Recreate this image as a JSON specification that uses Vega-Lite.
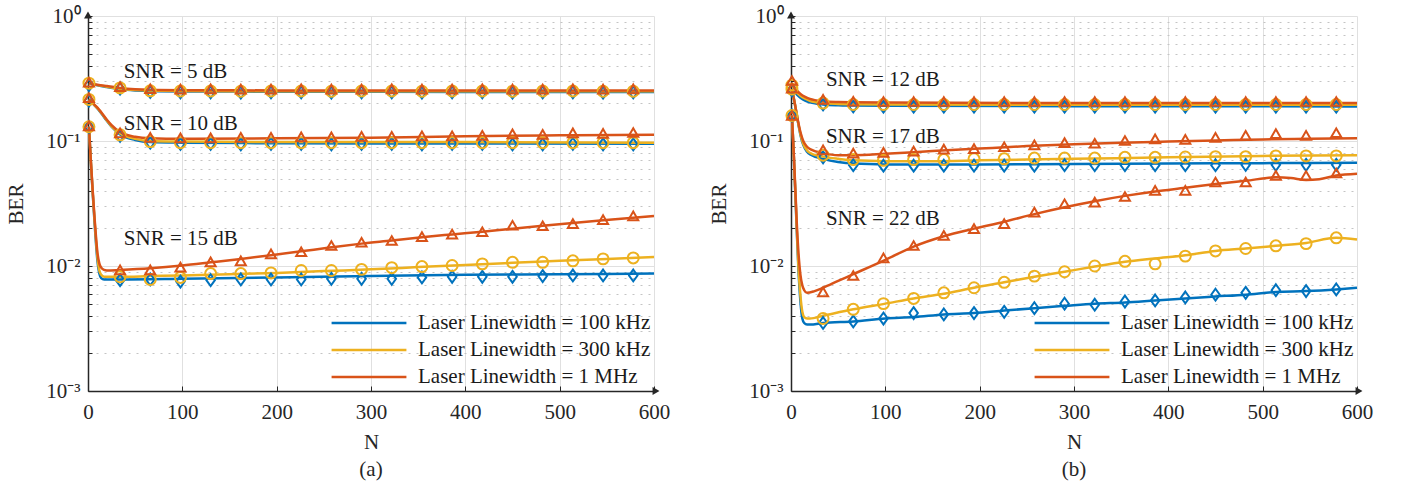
{
"$schema": "https://vega.github.io/schema/vega-lite/v6.json",
"config": {"font": "Liberation Serif", "view": {"stroke": null}, "axis": {"labelFont": "Liberation Serif", "titleFont": "Liberation Serif"}},
"spacing": 38,
"resolve": {"legend": {"color": "independent"}},
"datasets": {
"aL": [
{"s":5,"l":"100 kHz","N":1,"y":0.29},{"s":5,"l":"100 kHz","N":10,"y":0.279},{"s":5,"l":"100 kHz","N":20,"y":0.27},{"s":5,"l":"100 kHz","N":34,"y":0.26},{"s":5,"l":"100 kHz","N":50,"y":0.254},{"s":5,"l":"100 kHz","N":66,"y":0.251},{"s":5,"l":"100 kHz","N":100,"y":0.249},{"s":5,"l":"100 kHz","N":200,"y":0.248},{"s":5,"l":"100 kHz","N":400,"y":0.247},{"s":5,"l":"100 kHz","N":600,"y":0.247},
{"s":10,"l":"100 kHz","N":1,"y":0.215},{"s":10,"l":"100 kHz","N":5,"y":0.2},{"s":10,"l":"100 kHz","N":10,"y":0.182},{"s":10,"l":"100 kHz","N":14,"y":0.167},{"s":10,"l":"100 kHz","N":20,"y":0.145},{"s":10,"l":"100 kHz","N":25,"y":0.13},{"s":10,"l":"100 kHz","N":34,"y":0.113},{"s":10,"l":"100 kHz","N":50,"y":0.102},{"s":10,"l":"100 kHz","N":66,"y":0.098},{"s":10,"l":"100 kHz","N":100,"y":0.097},{"s":10,"l":"100 kHz","N":200,"y":0.096},{"s":10,"l":"100 kHz","N":400,"y":0.0955},{"s":10,"l":"100 kHz","N":600,"y":0.095},
{"s":15,"l":"100 kHz","N":1,"y":0.13},{"s":15,"l":"100 kHz","N":3,"y":0.068},{"s":15,"l":"100 kHz","N":5,"y":0.038},{"s":15,"l":"100 kHz","N":7,"y":0.022},{"s":15,"l":"100 kHz","N":8,"y":0.017},{"s":15,"l":"100 kHz","N":10,"y":0.011},{"s":15,"l":"100 kHz","N":12,"y":0.0087},{"s":15,"l":"100 kHz","N":14,"y":0.008},{"s":15,"l":"100 kHz","N":17,"y":0.0078},{"s":15,"l":"100 kHz","N":34,"y":0.0078},{"s":15,"l":"100 kHz","N":100,"y":0.0079},{"s":15,"l":"100 kHz","N":200,"y":0.0081},{"s":15,"l":"100 kHz","N":300,"y":0.0083},{"s":15,"l":"100 kHz","N":400,"y":0.0085},{"s":15,"l":"100 kHz","N":500,"y":0.0086},{"s":15,"l":"100 kHz","N":600,"y":0.0087},
{"s":5,"l":"300 kHz","N":1,"y":0.29},{"s":5,"l":"300 kHz","N":10,"y":0.28},{"s":5,"l":"300 kHz","N":20,"y":0.272},{"s":5,"l":"300 kHz","N":34,"y":0.262},{"s":5,"l":"300 kHz","N":50,"y":0.256},{"s":5,"l":"300 kHz","N":66,"y":0.253},{"s":5,"l":"300 kHz","N":100,"y":0.251},{"s":5,"l":"300 kHz","N":200,"y":0.25},{"s":5,"l":"300 kHz","N":400,"y":0.25},{"s":5,"l":"300 kHz","N":600,"y":0.25},
{"s":10,"l":"300 kHz","N":1,"y":0.215},{"s":10,"l":"300 kHz","N":5,"y":0.2},{"s":10,"l":"300 kHz","N":10,"y":0.183},{"s":10,"l":"300 kHz","N":14,"y":0.168},{"s":10,"l":"300 kHz","N":20,"y":0.146},{"s":10,"l":"300 kHz","N":25,"y":0.131},{"s":10,"l":"300 kHz","N":34,"y":0.115},{"s":10,"l":"300 kHz","N":50,"y":0.104},{"s":10,"l":"300 kHz","N":66,"y":0.1},{"s":10,"l":"300 kHz","N":100,"y":0.099},{"s":10,"l":"300 kHz","N":200,"y":0.098},{"s":10,"l":"300 kHz","N":400,"y":0.098},{"s":10,"l":"300 kHz","N":600,"y":0.097},
{"s":15,"l":"300 kHz","N":1,"y":0.13},{"s":15,"l":"300 kHz","N":3,"y":0.069},{"s":15,"l":"300 kHz","N":5,"y":0.039},{"s":15,"l":"300 kHz","N":7,"y":0.023},{"s":15,"l":"300 kHz","N":8,"y":0.018},{"s":15,"l":"300 kHz","N":10,"y":0.0118},{"s":15,"l":"300 kHz","N":12,"y":0.0092},{"s":15,"l":"300 kHz","N":14,"y":0.0085},{"s":15,"l":"300 kHz","N":17,"y":0.0082},{"s":15,"l":"300 kHz","N":34,"y":0.0082},{"s":15,"l":"300 kHz","N":66,"y":0.0083},{"s":15,"l":"300 kHz","N":100,"y":0.0084},{"s":15,"l":"300 kHz","N":150,"y":0.0086},{"s":15,"l":"300 kHz","N":200,"y":0.0088},{"s":15,"l":"300 kHz","N":250,"y":0.0091},{"s":15,"l":"300 kHz","N":300,"y":0.0094},{"s":15,"l":"300 kHz","N":350,"y":0.0098},{"s":15,"l":"300 kHz","N":400,"y":0.0102},{"s":15,"l":"300 kHz","N":450,"y":0.0106},{"s":15,"l":"300 kHz","N":500,"y":0.011},{"s":15,"l":"300 kHz","N":550,"y":0.0114},{"s":15,"l":"300 kHz","N":600,"y":0.0118},
{"s":5,"l":"1 MHz","N":1,"y":0.29},{"s":5,"l":"1 MHz","N":10,"y":0.282},{"s":5,"l":"1 MHz","N":20,"y":0.275},{"s":5,"l":"1 MHz","N":34,"y":0.266},{"s":5,"l":"1 MHz","N":50,"y":0.26},{"s":5,"l":"1 MHz","N":66,"y":0.257},{"s":5,"l":"1 MHz","N":100,"y":0.255},{"s":5,"l":"1 MHz","N":200,"y":0.254},{"s":5,"l":"1 MHz","N":400,"y":0.254},{"s":5,"l":"1 MHz","N":600,"y":0.254},
{"s":10,"l":"1 MHz","N":1,"y":0.215},{"s":10,"l":"1 MHz","N":5,"y":0.201},{"s":10,"l":"1 MHz","N":10,"y":0.185},{"s":10,"l":"1 MHz","N":14,"y":0.17},{"s":10,"l":"1 MHz","N":20,"y":0.148},{"s":10,"l":"1 MHz","N":25,"y":0.134},{"s":10,"l":"1 MHz","N":34,"y":0.118},{"s":10,"l":"1 MHz","N":50,"y":0.108},{"s":10,"l":"1 MHz","N":66,"y":0.105},{"s":10,"l":"1 MHz","N":100,"y":0.104},{"s":10,"l":"1 MHz","N":200,"y":0.105},{"s":10,"l":"1 MHz","N":300,"y":0.106},{"s":10,"l":"1 MHz","N":400,"y":0.109},{"s":10,"l":"1 MHz","N":500,"y":0.111},{"s":10,"l":"1 MHz","N":600,"y":0.112},
{"s":15,"l":"1 MHz","N":1,"y":0.13},{"s":15,"l":"1 MHz","N":3,"y":0.07},{"s":15,"l":"1 MHz","N":5,"y":0.04},{"s":15,"l":"1 MHz","N":7,"y":0.024},{"s":15,"l":"1 MHz","N":8,"y":0.019},{"s":15,"l":"1 MHz","N":10,"y":0.0128},{"s":15,"l":"1 MHz","N":12,"y":0.0105},{"s":15,"l":"1 MHz","N":14,"y":0.0097},{"s":15,"l":"1 MHz","N":17,"y":0.0093},{"s":15,"l":"1 MHz","N":20,"y":0.0092},{"s":15,"l":"1 MHz","N":34,"y":0.0093},{"s":15,"l":"1 MHz","N":66,"y":0.0096},{"s":15,"l":"1 MHz","N":100,"y":0.0101},{"s":15,"l":"1 MHz","N":130,"y":0.0107},{"s":15,"l":"1 MHz","N":162,"y":0.0114},{"s":15,"l":"1 MHz","N":194,"y":0.0122},{"s":15,"l":"1 MHz","N":226,"y":0.0131},{"s":15,"l":"1 MHz","N":258,"y":0.0141},{"s":15,"l":"1 MHz","N":290,"y":0.0151},{"s":15,"l":"1 MHz","N":322,"y":0.016},{"s":15,"l":"1 MHz","N":354,"y":0.017},{"s":15,"l":"1 MHz","N":386,"y":0.0179},{"s":15,"l":"1 MHz","N":418,"y":0.0188},{"s":15,"l":"1 MHz","N":450,"y":0.0199},{"s":15,"l":"1 MHz","N":482,"y":0.021},{"s":15,"l":"1 MHz","N":514,"y":0.0221},{"s":15,"l":"1 MHz","N":546,"y":0.0232},{"s":15,"l":"1 MHz","N":578,"y":0.0243},{"s":15,"l":"1 MHz","N":600,"y":0.0251}
],
"aM": [
{"l":"100 kHz","N":1,"y":0.28},{"l":"100 kHz","N":34,"y":0.262},{"l":"100 kHz","N":66,"y":0.247},{"l":"100 kHz","N":98,"y":0.245},{"l":"100 kHz","N":130,"y":0.245},{"l":"100 kHz","N":162,"y":0.244},{"l":"100 kHz","N":194,"y":0.245},{"l":"100 kHz","N":226,"y":0.245},{"l":"100 kHz","N":258,"y":0.244},{"l":"100 kHz","N":290,"y":0.245},{"l":"100 kHz","N":322,"y":0.245},{"l":"100 kHz","N":354,"y":0.244},{"l":"100 kHz","N":386,"y":0.245},{"l":"100 kHz","N":418,"y":0.245},{"l":"100 kHz","N":450,"y":0.244},{"l":"100 kHz","N":482,"y":0.245},{"l":"100 kHz","N":514,"y":0.245},{"l":"100 kHz","N":546,"y":0.244},{"l":"100 kHz","N":578,"y":0.245},
{"l":"100 kHz","N":1,"y":0.21},{"l":"100 kHz","N":34,"y":0.11},{"l":"100 kHz","N":66,"y":0.097},{"l":"100 kHz","N":98,"y":0.095},{"l":"100 kHz","N":130,"y":0.095},{"l":"100 kHz","N":162,"y":0.094},{"l":"100 kHz","N":194,"y":0.095},{"l":"100 kHz","N":226,"y":0.095},{"l":"100 kHz","N":258,"y":0.094},{"l":"100 kHz","N":290,"y":0.095},{"l":"100 kHz","N":322,"y":0.095},{"l":"100 kHz","N":354,"y":0.094},{"l":"100 kHz","N":386,"y":0.095},{"l":"100 kHz","N":418,"y":0.095},{"l":"100 kHz","N":450,"y":0.094},{"l":"100 kHz","N":482,"y":0.094},{"l":"100 kHz","N":514,"y":0.095},{"l":"100 kHz","N":546,"y":0.094},{"l":"100 kHz","N":578,"y":0.094},
{"l":"100 kHz","N":1,"y":0.13},{"l":"100 kHz","N":34,"y":0.0077},{"l":"100 kHz","N":66,"y":0.0078},{"l":"100 kHz","N":98,"y":0.0075},{"l":"100 kHz","N":130,"y":0.0077},{"l":"100 kHz","N":162,"y":0.0078},{"l":"100 kHz","N":194,"y":0.0078},{"l":"100 kHz","N":226,"y":0.0078},{"l":"100 kHz","N":258,"y":0.0079},{"l":"100 kHz","N":290,"y":0.0079},{"l":"100 kHz","N":322,"y":0.0079},{"l":"100 kHz","N":354,"y":0.0081},{"l":"100 kHz","N":386,"y":0.0082},{"l":"100 kHz","N":418,"y":0.0082},{"l":"100 kHz","N":450,"y":0.0082},{"l":"100 kHz","N":482,"y":0.0083},{"l":"100 kHz","N":514,"y":0.0084},{"l":"100 kHz","N":546,"y":0.0084},{"l":"100 kHz","N":578,"y":0.0084},
{"l":"300 kHz","N":1,"y":0.29},{"l":"300 kHz","N":34,"y":0.266},{"l":"300 kHz","N":66,"y":0.252},{"l":"300 kHz","N":98,"y":0.251},{"l":"300 kHz","N":130,"y":0.251},{"l":"300 kHz","N":162,"y":0.25},{"l":"300 kHz","N":194,"y":0.251},{"l":"300 kHz","N":226,"y":0.251},{"l":"300 kHz","N":258,"y":0.25},{"l":"300 kHz","N":290,"y":0.251},{"l":"300 kHz","N":322,"y":0.251},{"l":"300 kHz","N":354,"y":0.25},{"l":"300 kHz","N":386,"y":0.251},{"l":"300 kHz","N":418,"y":0.251},{"l":"300 kHz","N":450,"y":0.25},{"l":"300 kHz","N":482,"y":0.251},{"l":"300 kHz","N":514,"y":0.251},{"l":"300 kHz","N":546,"y":0.25},{"l":"300 kHz","N":578,"y":0.25},
{"l":"300 kHz","N":1,"y":0.215},{"l":"300 kHz","N":34,"y":0.112},{"l":"300 kHz","N":66,"y":0.099},{"l":"300 kHz","N":98,"y":0.097},{"l":"300 kHz","N":130,"y":0.097},{"l":"300 kHz","N":162,"y":0.097},{"l":"300 kHz","N":194,"y":0.097},{"l":"300 kHz","N":226,"y":0.097},{"l":"300 kHz","N":258,"y":0.097},{"l":"300 kHz","N":290,"y":0.097},{"l":"300 kHz","N":322,"y":0.097},{"l":"300 kHz","N":354,"y":0.097},{"l":"300 kHz","N":386,"y":0.097},{"l":"300 kHz","N":418,"y":0.097},{"l":"300 kHz","N":450,"y":0.097},{"l":"300 kHz","N":482,"y":0.097},{"l":"300 kHz","N":514,"y":0.097},{"l":"300 kHz","N":546,"y":0.097},{"l":"300 kHz","N":578,"y":0.097},
{"l":"300 kHz","N":1,"y":0.13},{"l":"300 kHz","N":34,"y":0.0082},{"l":"300 kHz","N":66,"y":0.0078},{"l":"300 kHz","N":98,"y":0.0081},{"l":"300 kHz","N":130,"y":0.0087},{"l":"300 kHz","N":162,"y":0.0087},{"l":"300 kHz","N":194,"y":0.0088},{"l":"300 kHz","N":226,"y":0.0092},{"l":"300 kHz","N":258,"y":0.0092},{"l":"300 kHz","N":290,"y":0.0094},{"l":"300 kHz","N":322,"y":0.0097},{"l":"300 kHz","N":354,"y":0.0099},{"l":"300 kHz","N":386,"y":0.0101},{"l":"300 kHz","N":418,"y":0.0104},{"l":"300 kHz","N":450,"y":0.0107},{"l":"300 kHz","N":482,"y":0.0107},{"l":"300 kHz","N":514,"y":0.011},{"l":"300 kHz","N":546,"y":0.0114},{"l":"300 kHz","N":578,"y":0.0116},
{"l":"1 MHz","N":1,"y":0.295},{"l":"1 MHz","N":34,"y":0.272},{"l":"1 MHz","N":66,"y":0.262},{"l":"1 MHz","N":98,"y":0.26},{"l":"1 MHz","N":130,"y":0.261},{"l":"1 MHz","N":162,"y":0.26},{"l":"1 MHz","N":194,"y":0.26},{"l":"1 MHz","N":226,"y":0.261},{"l":"1 MHz","N":258,"y":0.26},{"l":"1 MHz","N":290,"y":0.26},{"l":"1 MHz","N":322,"y":0.261},{"l":"1 MHz","N":354,"y":0.26},{"l":"1 MHz","N":386,"y":0.26},{"l":"1 MHz","N":418,"y":0.261},{"l":"1 MHz","N":450,"y":0.26},{"l":"1 MHz","N":482,"y":0.26},{"l":"1 MHz","N":514,"y":0.261},{"l":"1 MHz","N":546,"y":0.26},{"l":"1 MHz","N":578,"y":0.261},
{"l":"1 MHz","N":1,"y":0.222},{"l":"1 MHz","N":34,"y":0.116},{"l":"1 MHz","N":66,"y":0.107},{"l":"1 MHz","N":98,"y":0.106},{"l":"1 MHz","N":130,"y":0.106},{"l":"1 MHz","N":162,"y":0.107},{"l":"1 MHz","N":194,"y":0.107},{"l":"1 MHz","N":226,"y":0.108},{"l":"1 MHz","N":258,"y":0.108},{"l":"1 MHz","N":290,"y":0.109},{"l":"1 MHz","N":322,"y":0.109},{"l":"1 MHz","N":354,"y":0.11},{"l":"1 MHz","N":386,"y":0.11},{"l":"1 MHz","N":418,"y":0.111},{"l":"1 MHz","N":450,"y":0.114},{"l":"1 MHz","N":482,"y":0.113},{"l":"1 MHz","N":514,"y":0.116},{"l":"1 MHz","N":546,"y":0.115},{"l":"1 MHz","N":578,"y":0.117},
{"l":"1 MHz","N":1,"y":0.132},{"l":"1 MHz","N":34,"y":0.0093},{"l":"1 MHz","N":66,"y":0.0093},{"l":"1 MHz","N":98,"y":0.0098},{"l":"1 MHz","N":130,"y":0.0108},{"l":"1 MHz","N":162,"y":0.011},{"l":"1 MHz","N":194,"y":0.0125},{"l":"1 MHz","N":226,"y":0.013},{"l":"1 MHz","N":258,"y":0.0146},{"l":"1 MHz","N":290,"y":0.0155},{"l":"1 MHz","N":322,"y":0.016},{"l":"1 MHz","N":354,"y":0.0172},{"l":"1 MHz","N":386,"y":0.018},{"l":"1 MHz","N":418,"y":0.0188},{"l":"1 MHz","N":450,"y":0.0212},{"l":"1 MHz","N":482,"y":0.021},{"l":"1 MHz","N":514,"y":0.0218},{"l":"1 MHz","N":546,"y":0.0235},{"l":"1 MHz","N":578,"y":0.0252}
],
"bL": [
{"s":12,"l":"100 kHz","N":1,"y":0.26},{"s":12,"l":"100 kHz","N":5,"y":0.24},{"s":12,"l":"100 kHz","N":10,"y":0.222},{"s":12,"l":"100 kHz","N":15,"y":0.21},{"s":12,"l":"100 kHz","N":20,"y":0.204},{"s":12,"l":"100 kHz","N":34,"y":0.196},{"s":12,"l":"100 kHz","N":50,"y":0.193},{"s":12,"l":"100 kHz","N":66,"y":0.192},{"s":12,"l":"100 kHz","N":100,"y":0.191},{"s":12,"l":"100 kHz","N":300,"y":0.19},{"s":12,"l":"100 kHz","N":600,"y":0.189},
{"s":17,"l":"100 kHz","N":1,"y":0.26},{"s":17,"l":"100 kHz","N":4,"y":0.2},{"s":17,"l":"100 kHz","N":7,"y":0.147},{"s":17,"l":"100 kHz","N":10,"y":0.112},{"s":17,"l":"100 kHz","N":13,"y":0.093},{"s":17,"l":"100 kHz","N":17,"y":0.082},{"s":17,"l":"100 kHz","N":22,"y":0.077},{"s":17,"l":"100 kHz","N":34,"y":0.072},{"s":17,"l":"100 kHz","N":50,"y":0.068},{"s":17,"l":"100 kHz","N":66,"y":0.066},{"s":17,"l":"100 kHz","N":100,"y":0.065},{"s":17,"l":"100 kHz","N":200,"y":0.065},{"s":17,"l":"100 kHz","N":300,"y":0.0655},{"s":17,"l":"100 kHz","N":400,"y":0.066},{"s":17,"l":"100 kHz","N":500,"y":0.0665},{"s":17,"l":"100 kHz","N":600,"y":0.067},
{"s":22,"l":"100 kHz","N":1,"y":0.16},{"s":22,"l":"100 kHz","N":3,"y":0.075},{"s":22,"l":"100 kHz","N":5,"y":0.032},{"s":22,"l":"100 kHz","N":6,"y":0.02},{"s":22,"l":"100 kHz","N":8,"y":0.009},{"s":22,"l":"100 kHz","N":10,"y":0.0052},{"s":22,"l":"100 kHz","N":12,"y":0.0038},{"s":22,"l":"100 kHz","N":14,"y":0.0035},{"s":22,"l":"100 kHz","N":17,"y":0.0034},{"s":22,"l":"100 kHz","N":20,"y":0.0034},{"s":22,"l":"100 kHz","N":34,"y":0.0035},{"s":22,"l":"100 kHz","N":66,"y":0.0036},{"s":22,"l":"100 kHz","N":100,"y":0.0038},{"s":22,"l":"100 kHz","N":130,"y":0.0039},{"s":22,"l":"100 kHz","N":162,"y":0.0041},{"s":22,"l":"100 kHz","N":194,"y":0.0042},{"s":22,"l":"100 kHz","N":226,"y":0.0044},{"s":22,"l":"100 kHz","N":258,"y":0.0046},{"s":22,"l":"100 kHz","N":290,"y":0.0048},{"s":22,"l":"100 kHz","N":322,"y":0.005},{"s":22,"l":"100 kHz","N":354,"y":0.0051},{"s":22,"l":"100 kHz","N":386,"y":0.0053},{"s":22,"l":"100 kHz","N":418,"y":0.0055},{"s":22,"l":"100 kHz","N":450,"y":0.0057},{"s":22,"l":"100 kHz","N":482,"y":0.0059},{"s":22,"l":"100 kHz","N":514,"y":0.0062},{"s":22,"l":"100 kHz","N":546,"y":0.0063},{"s":22,"l":"100 kHz","N":578,"y":0.0065},{"s":22,"l":"100 kHz","N":600,"y":0.0067},
{"s":12,"l":"300 kHz","N":1,"y":0.28},{"s":12,"l":"300 kHz","N":5,"y":0.25},{"s":12,"l":"300 kHz","N":10,"y":0.23},{"s":12,"l":"300 kHz","N":15,"y":0.218},{"s":12,"l":"300 kHz","N":20,"y":0.21},{"s":12,"l":"300 kHz","N":34,"y":0.201},{"s":12,"l":"300 kHz","N":50,"y":0.198},{"s":12,"l":"300 kHz","N":66,"y":0.197},{"s":12,"l":"300 kHz","N":100,"y":0.196},{"s":12,"l":"300 kHz","N":300,"y":0.195},{"s":12,"l":"300 kHz","N":600,"y":0.195},
{"s":17,"l":"300 kHz","N":1,"y":0.26},{"s":17,"l":"300 kHz","N":4,"y":0.2},{"s":17,"l":"300 kHz","N":7,"y":0.148},{"s":17,"l":"300 kHz","N":10,"y":0.114},{"s":17,"l":"300 kHz","N":13,"y":0.095},{"s":17,"l":"300 kHz","N":17,"y":0.084},{"s":17,"l":"300 kHz","N":22,"y":0.079},{"s":17,"l":"300 kHz","N":34,"y":0.075},{"s":17,"l":"300 kHz","N":50,"y":0.072},{"s":17,"l":"300 kHz","N":66,"y":0.07},{"s":17,"l":"300 kHz","N":100,"y":0.069},{"s":17,"l":"300 kHz","N":150,"y":0.069},{"s":17,"l":"300 kHz","N":200,"y":0.07},{"s":17,"l":"300 kHz","N":250,"y":0.071},{"s":17,"l":"300 kHz","N":300,"y":0.072},{"s":17,"l":"300 kHz","N":400,"y":0.074},{"s":17,"l":"300 kHz","N":500,"y":0.076},{"s":17,"l":"300 kHz","N":600,"y":0.077},
{"s":22,"l":"300 kHz","N":1,"y":0.16},{"s":22,"l":"300 kHz","N":3,"y":0.075},{"s":22,"l":"300 kHz","N":5,"y":0.033},{"s":22,"l":"300 kHz","N":6,"y":0.021},{"s":22,"l":"300 kHz","N":8,"y":0.0095},{"s":22,"l":"300 kHz","N":10,"y":0.0058},{"s":22,"l":"300 kHz","N":12,"y":0.0043},{"s":22,"l":"300 kHz","N":14,"y":0.0039},{"s":22,"l":"300 kHz","N":17,"y":0.0038},{"s":22,"l":"300 kHz","N":20,"y":0.0038},{"s":22,"l":"300 kHz","N":34,"y":0.004},{"s":22,"l":"300 kHz","N":66,"y":0.0045},{"s":22,"l":"300 kHz","N":100,"y":0.005},{"s":22,"l":"300 kHz","N":130,"y":0.0055},{"s":22,"l":"300 kHz","N":162,"y":0.006},{"s":22,"l":"300 kHz","N":194,"y":0.0067},{"s":22,"l":"300 kHz","N":226,"y":0.0074},{"s":22,"l":"300 kHz","N":258,"y":0.0082},{"s":22,"l":"300 kHz","N":290,"y":0.009},{"s":22,"l":"300 kHz","N":322,"y":0.0099},{"s":22,"l":"300 kHz","N":354,"y":0.0108},{"s":22,"l":"300 kHz","N":386,"y":0.0115},{"s":22,"l":"300 kHz","N":418,"y":0.0122},{"s":22,"l":"300 kHz","N":450,"y":0.0132},{"s":22,"l":"300 kHz","N":482,"y":0.0138},{"s":22,"l":"300 kHz","N":514,"y":0.0145},{"s":22,"l":"300 kHz","N":546,"y":0.0153},{"s":22,"l":"300 kHz","N":578,"y":0.0168},{"s":22,"l":"300 kHz","N":600,"y":0.0163},
{"s":12,"l":"1 MHz","N":1,"y":0.29},{"s":12,"l":"1 MHz","N":5,"y":0.26},{"s":12,"l":"1 MHz","N":10,"y":0.238},{"s":12,"l":"1 MHz","N":15,"y":0.225},{"s":12,"l":"1 MHz","N":20,"y":0.217},{"s":12,"l":"1 MHz","N":34,"y":0.208},{"s":12,"l":"1 MHz","N":50,"y":0.205},{"s":12,"l":"1 MHz","N":66,"y":0.204},{"s":12,"l":"1 MHz","N":100,"y":0.203},{"s":12,"l":"1 MHz","N":300,"y":0.201},{"s":12,"l":"1 MHz","N":600,"y":0.201},
{"s":17,"l":"1 MHz","N":1,"y":0.26},{"s":17,"l":"1 MHz","N":4,"y":0.2},{"s":17,"l":"1 MHz","N":7,"y":0.15},{"s":17,"l":"1 MHz","N":10,"y":0.118},{"s":17,"l":"1 MHz","N":13,"y":0.1},{"s":17,"l":"1 MHz","N":17,"y":0.09},{"s":17,"l":"1 MHz","N":22,"y":0.085},{"s":17,"l":"1 MHz","N":34,"y":0.08},{"s":17,"l":"1 MHz","N":50,"y":0.077},{"s":17,"l":"1 MHz","N":66,"y":0.077},{"s":17,"l":"1 MHz","N":100,"y":0.079},{"s":17,"l":"1 MHz","N":150,"y":0.083},{"s":17,"l":"1 MHz","N":200,"y":0.087},{"s":17,"l":"1 MHz","N":250,"y":0.091},{"s":17,"l":"1 MHz","N":300,"y":0.094},{"s":17,"l":"1 MHz","N":350,"y":0.097},{"s":17,"l":"1 MHz","N":400,"y":0.099},{"s":17,"l":"1 MHz","N":450,"y":0.101},{"s":17,"l":"1 MHz","N":500,"y":0.103},{"s":17,"l":"1 MHz","N":550,"y":0.104},{"s":17,"l":"1 MHz","N":600,"y":0.105},
{"s":22,"l":"1 MHz","N":1,"y":0.16},{"s":22,"l":"1 MHz","N":3,"y":0.078},{"s":22,"l":"1 MHz","N":5,"y":0.035},{"s":22,"l":"1 MHz","N":6,"y":0.023},{"s":22,"l":"1 MHz","N":8,"y":0.0125},{"s":22,"l":"1 MHz","N":10,"y":0.0085},{"s":22,"l":"1 MHz","N":12,"y":0.007},{"s":22,"l":"1 MHz","N":14,"y":0.0064},{"s":22,"l":"1 MHz","N":17,"y":0.0061},{"s":22,"l":"1 MHz","N":25,"y":0.0063},{"s":22,"l":"1 MHz","N":34,"y":0.0067},{"s":22,"l":"1 MHz","N":50,"y":0.0076},{"s":22,"l":"1 MHz","N":66,"y":0.0086},{"s":22,"l":"1 MHz","N":100,"y":0.0112},{"s":22,"l":"1 MHz","N":130,"y":0.0143},{"s":22,"l":"1 MHz","N":162,"y":0.0173},{"s":22,"l":"1 MHz","N":194,"y":0.0199},{"s":22,"l":"1 MHz","N":226,"y":0.0226},{"s":22,"l":"1 MHz","N":258,"y":0.026},{"s":22,"l":"1 MHz","N":290,"y":0.0295},{"s":22,"l":"1 MHz","N":322,"y":0.033},{"s":22,"l":"1 MHz","N":354,"y":0.0364},{"s":22,"l":"1 MHz","N":386,"y":0.0395},{"s":22,"l":"1 MHz","N":418,"y":0.0422},{"s":22,"l":"1 MHz","N":450,"y":0.0452},{"s":22,"l":"1 MHz","N":482,"y":0.048},{"s":22,"l":"1 MHz","N":514,"y":0.0512},{"s":22,"l":"1 MHz","N":530,"y":0.0505},{"s":22,"l":"1 MHz","N":546,"y":0.0488},{"s":22,"l":"1 MHz","N":560,"y":0.0495},{"s":22,"l":"1 MHz","N":578,"y":0.053},{"s":22,"l":"1 MHz","N":600,"y":0.0548}
],
"bM": [
{"l":"100 kHz","N":1,"y":0.255},{"l":"100 kHz","N":34,"y":0.196},{"l":"100 kHz","N":66,"y":0.189},{"l":"100 kHz","N":98,"y":0.188},{"l":"100 kHz","N":130,"y":0.188},{"l":"100 kHz","N":162,"y":0.188},{"l":"100 kHz","N":194,"y":0.188},{"l":"100 kHz","N":226,"y":0.188},{"l":"100 kHz","N":258,"y":0.188},{"l":"100 kHz","N":290,"y":0.188},{"l":"100 kHz","N":322,"y":0.188},{"l":"100 kHz","N":354,"y":0.188},{"l":"100 kHz","N":386,"y":0.188},{"l":"100 kHz","N":418,"y":0.188},{"l":"100 kHz","N":450,"y":0.188},{"l":"100 kHz","N":482,"y":0.188},{"l":"100 kHz","N":514,"y":0.188},{"l":"100 kHz","N":546,"y":0.188},{"l":"100 kHz","N":578,"y":0.188},
{"l":"100 kHz","N":1,"y":0.255},{"l":"100 kHz","N":34,"y":0.074},{"l":"100 kHz","N":66,"y":0.064},{"l":"100 kHz","N":98,"y":0.0635},{"l":"100 kHz","N":130,"y":0.0635},{"l":"100 kHz","N":162,"y":0.0635},{"l":"100 kHz","N":194,"y":0.0635},{"l":"100 kHz","N":226,"y":0.0635},{"l":"100 kHz","N":258,"y":0.0635},{"l":"100 kHz","N":290,"y":0.064},{"l":"100 kHz","N":322,"y":0.064},{"l":"100 kHz","N":354,"y":0.064},{"l":"100 kHz","N":386,"y":0.064},{"l":"100 kHz","N":418,"y":0.064},{"l":"100 kHz","N":450,"y":0.064},{"l":"100 kHz","N":482,"y":0.0645},{"l":"100 kHz","N":514,"y":0.0645},{"l":"100 kHz","N":546,"y":0.0645},{"l":"100 kHz","N":578,"y":0.0645},
{"l":"100 kHz","N":1,"y":0.16},{"l":"100 kHz","N":34,"y":0.0035},{"l":"100 kHz","N":66,"y":0.0036},{"l":"100 kHz","N":98,"y":0.0038},{"l":"100 kHz","N":130,"y":0.0042},{"l":"100 kHz","N":162,"y":0.0041},{"l":"100 kHz","N":194,"y":0.0042},{"l":"100 kHz","N":226,"y":0.0043},{"l":"100 kHz","N":258,"y":0.0046},{"l":"100 kHz","N":290,"y":0.005},{"l":"100 kHz","N":322,"y":0.0049},{"l":"100 kHz","N":354,"y":0.0052},{"l":"100 kHz","N":386,"y":0.0053},{"l":"100 kHz","N":418,"y":0.0056},{"l":"100 kHz","N":450,"y":0.0059},{"l":"100 kHz","N":482,"y":0.0061},{"l":"100 kHz","N":514,"y":0.0064},{"l":"100 kHz","N":546,"y":0.0063},{"l":"100 kHz","N":578,"y":0.0065},
{"l":"300 kHz","N":1,"y":0.28},{"l":"300 kHz","N":34,"y":0.201},{"l":"300 kHz","N":66,"y":0.196},{"l":"300 kHz","N":98,"y":0.196},{"l":"300 kHz","N":130,"y":0.196},{"l":"300 kHz","N":162,"y":0.196},{"l":"300 kHz","N":194,"y":0.196},{"l":"300 kHz","N":226,"y":0.196},{"l":"300 kHz","N":258,"y":0.196},{"l":"300 kHz","N":290,"y":0.196},{"l":"300 kHz","N":322,"y":0.196},{"l":"300 kHz","N":354,"y":0.196},{"l":"300 kHz","N":386,"y":0.196},{"l":"300 kHz","N":418,"y":0.196},{"l":"300 kHz","N":450,"y":0.196},{"l":"300 kHz","N":482,"y":0.196},{"l":"300 kHz","N":514,"y":0.196},{"l":"300 kHz","N":546,"y":0.196},{"l":"300 kHz","N":578,"y":0.196},
{"l":"300 kHz","N":1,"y":0.26},{"l":"300 kHz","N":34,"y":0.077},{"l":"300 kHz","N":66,"y":0.071},{"l":"300 kHz","N":98,"y":0.07},{"l":"300 kHz","N":130,"y":0.071},{"l":"300 kHz","N":162,"y":0.071},{"l":"300 kHz","N":194,"y":0.072},{"l":"300 kHz","N":226,"y":0.072},{"l":"300 kHz","N":258,"y":0.073},{"l":"300 kHz","N":290,"y":0.073},{"l":"300 kHz","N":322,"y":0.073},{"l":"300 kHz","N":354,"y":0.074},{"l":"300 kHz","N":386,"y":0.074},{"l":"300 kHz","N":418,"y":0.0745},{"l":"300 kHz","N":450,"y":0.075},{"l":"300 kHz","N":482,"y":0.075},{"l":"300 kHz","N":514,"y":0.076},{"l":"300 kHz","N":546,"y":0.076},{"l":"300 kHz","N":578,"y":0.076},
{"l":"300 kHz","N":1,"y":0.16},{"l":"300 kHz","N":34,"y":0.0038},{"l":"300 kHz","N":66,"y":0.0045},{"l":"300 kHz","N":98,"y":0.005},{"l":"300 kHz","N":130,"y":0.0055},{"l":"300 kHz","N":162,"y":0.0061},{"l":"300 kHz","N":194,"y":0.0067},{"l":"300 kHz","N":226,"y":0.0074},{"l":"300 kHz","N":258,"y":0.0083},{"l":"300 kHz","N":290,"y":0.009},{"l":"300 kHz","N":322,"y":0.01},{"l":"300 kHz","N":354,"y":0.0109},{"l":"300 kHz","N":386,"y":0.0104},{"l":"300 kHz","N":418,"y":0.012},{"l":"300 kHz","N":450,"y":0.0132},{"l":"300 kHz","N":482,"y":0.0138},{"l":"300 kHz","N":514,"y":0.0145},{"l":"300 kHz","N":546,"y":0.0151},{"l":"300 kHz","N":578,"y":0.0168},
{"l":"1 MHz","N":1,"y":0.305},{"l":"1 MHz","N":34,"y":0.215},{"l":"1 MHz","N":66,"y":0.208},{"l":"1 MHz","N":98,"y":0.207},{"l":"1 MHz","N":130,"y":0.207},{"l":"1 MHz","N":162,"y":0.207},{"l":"1 MHz","N":194,"y":0.207},{"l":"1 MHz","N":226,"y":0.207},{"l":"1 MHz","N":258,"y":0.207},{"l":"1 MHz","N":290,"y":0.207},{"l":"1 MHz","N":322,"y":0.207},{"l":"1 MHz","N":354,"y":0.207},{"l":"1 MHz","N":386,"y":0.207},{"l":"1 MHz","N":418,"y":0.207},{"l":"1 MHz","N":450,"y":0.207},{"l":"1 MHz","N":482,"y":0.207},{"l":"1 MHz","N":514,"y":0.207},{"l":"1 MHz","N":546,"y":0.207},{"l":"1 MHz","N":578,"y":0.207},
{"l":"1 MHz","N":1,"y":0.265},{"l":"1 MHz","N":34,"y":0.085},{"l":"1 MHz","N":66,"y":0.08},{"l":"1 MHz","N":98,"y":0.081},{"l":"1 MHz","N":130,"y":0.083},{"l":"1 MHz","N":162,"y":0.086},{"l":"1 MHz","N":194,"y":0.087},{"l":"1 MHz","N":226,"y":0.09},{"l":"1 MHz","N":258,"y":0.093},{"l":"1 MHz","N":290,"y":0.097},{"l":"1 MHz","N":322,"y":0.096},{"l":"1 MHz","N":354,"y":0.101},{"l":"1 MHz","N":386,"y":0.104},{"l":"1 MHz","N":418,"y":0.103},{"l":"1 MHz","N":450,"y":0.107},{"l":"1 MHz","N":482,"y":0.111},{"l":"1 MHz","N":514,"y":0.1145},{"l":"1 MHz","N":546,"y":0.111},{"l":"1 MHz","N":578,"y":0.1165},
{"l":"1 MHz","N":1,"y":0.16},{"l":"1 MHz","N":34,"y":0.0062},{"l":"1 MHz","N":66,"y":0.0084},{"l":"1 MHz","N":98,"y":0.0116},{"l":"1 MHz","N":130,"y":0.0146},{"l":"1 MHz","N":162,"y":0.0176},{"l":"1 MHz","N":194,"y":0.0199},{"l":"1 MHz","N":226,"y":0.0218},{"l":"1 MHz","N":258,"y":0.027},{"l":"1 MHz","N":290,"y":0.0315},{"l":"1 MHz","N":322,"y":0.0324},{"l":"1 MHz","N":354,"y":0.036},{"l":"1 MHz","N":386,"y":0.0403},{"l":"1 MHz","N":418,"y":0.0403},{"l":"1 MHz","N":450,"y":0.047},{"l":"1 MHz","N":482,"y":0.047},{"l":"1 MHz","N":514,"y":0.0531},{"l":"1 MHz","N":546,"y":0.053},{"l":"1 MHz","N":578,"y":0.0555}
],
"aT": [{"N":38,"y":0.356,"t":"SNR = 5 dB"},{"N":38,"y":0.1376,"t":"SNR = 10 dB"},{"N":38,"y":0.0164,"t":"SNR = 15 dB"}],
"bT": [{"N":37,"y":0.307,"t":"SNR = 12 dB"},{"N":37,"y":0.1076,"t":"SNR = 17 dB"},{"N":37,"y":0.0239,"t":"SNR = 22 dB"}],
"top": [{"N":0,"y":1}],
"end": [{"N":600,"y":0.001}]
},
"hconcat": [
{
"width": 566, "height": 375,
"title": {"text": "(a)", "orient": "bottom", "frame": "group", "fontSize": 21, "fontWeight": "normal", "font": "Liberation Serif", "color": "#262626", "offset": 7},
"encoding": {
"x": {"field": "N", "type": "quantitative", "scale": {"domain": [0, 600], "nice": false}, "axis": {"values": [0,100,200,300,400,500,600], "title": "N", "grid": true, "gridColor": "#e0e0e0", "domainColor": "#262626", "domainWidth": 1.5, "tickColor": "#262626", "tickSize": -5, "labelPadding": 15, "labelFontSize": 21, "labelColor": "#262626", "labelFlush": false, "titleFontSize": 21, "titleFontWeight": "normal", "titleColor": "#262626", "titlePadding": 9}},
"y": {"field": "y", "type": "quantitative", "scale": {"type": "log", "domain": [0.001, 1], "nice": false}, "axis": {"values": [0.001,0.002,0.003,0.004,0.005,0.006,0.007,0.008,0.009,0.01,0.02,0.03,0.04,0.05,0.06,0.07,0.08,0.09,0.1,0.2,0.3,0.4,0.5,0.6,0.7,0.8,0.9,1], "labelExpr": "datum.value===1 ? '10⁰' : datum.value===0.1 ? '10⁻¹' : datum.value===0.01 ? '10⁻²' : datum.value===0.001 ? '10⁻³' : ''", "labelOverlap": false, "labelFlush": false, "title": "BER", "grid": true, "gridColor": {"condition": {"test": "datum.value===1||datum.value===0.1||datum.value===0.01||datum.value===0.001", "value": "#e0e0e0"}, "value": "#c4c4c4"}, "gridDash": {"condition": {"test": "datum.value===1||datum.value===0.1||datum.value===0.01||datum.value===0.001", "value": []}, "value": [2, 6]}, "domainColor": "#262626", "domainWidth": 1.5, "tickColor": "#262626", "tickSize": -4, "labelPadding": 12, "labelFontSize": 21, "labelColor": "#262626", "titleFontSize": 21, "titleFontWeight": "normal", "titleColor": "#262626", "titlePadding": 19}}
},
"layer": [
{"data": {"name": "aL"}, "mark": {"type": "line", "strokeWidth": 2.5, "interpolate": "monotone"}, "encoding": {"color": {"field": "l", "type": "nominal", "title": null, "scale": {"domain": ["100 kHz","300 kHz","1 MHz"], "range": ["#0072BD","#EDB120","#D95319"]}, "legend": {"orient": "bottom-right", "offset": 3, "padding": 0, "labelExpr": "'Laser Linewidth = ' + datum.label", "symbolType": "stroke", "symbolSize": 5600, "symbolStrokeWidth": 2.5, "labelFontSize": 21, "labelFont": "Liberation Serif", "labelColor": "#1a1a1a", "labelLimit": 400, "labelOffset": 10, "clipHeight": 22, "rowPadding": 5}}, "detail": {"field": "s"}}},
{"data": {"name": "aM"}, "mark": {"type": "point", "filled": false, "strokeWidth": 2, "opacity": 1}, "encoding": {"color": {"field": "l", "type": "nominal", "legend": null}, "shape": {"field": "l", "type": "nominal", "scale": {"domain": ["100 kHz","300 kHz","1 MHz"], "range": ["M0,-1L0.72,0L0,1L-0.72,0Z","circle","triangle-up"]}, "legend": null}, "size": {"field": "l", "type": "nominal", "scale": {"domain": ["100 kHz","300 kHz","1 MHz"], "range": [140, 100, 170]}, "legend": null}}},
{"data": {"name": "aT"}, "mark": {"type": "text", "align": "left", "baseline": "middle", "fontSize": 21, "font": "Liberation Serif", "color": "#1a1a1a"}, "encoding": {"text": {"field": "t"}}},
{"data": {"name": "top"}, "mark": {"type": "point", "shape": "triangle-up", "filled": true, "color": "#262626", "size": 64, "opacity": 1, "yOffset": -1}},
{"data": {"name": "end"}, "mark": {"type": "point", "shape": "triangle-right", "filled": true, "color": "#262626", "size": 64, "opacity": 1, "xOffset": 2}}
]
},
{
"width": 566, "height": 375,
"title": {"text": "(b)", "orient": "bottom", "frame": "group", "fontSize": 21, "fontWeight": "normal", "font": "Liberation Serif", "color": "#262626", "offset": 7},
"encoding": {
"x": {"field": "N", "type": "quantitative", "scale": {"domain": [0, 600], "nice": false}, "axis": {"values": [0,100,200,300,400,500,600], "title": "N", "grid": true, "gridColor": "#e0e0e0", "domainColor": "#262626", "domainWidth": 1.5, "tickColor": "#262626", "tickSize": -5, "labelPadding": 15, "labelFontSize": 21, "labelColor": "#262626", "labelFlush": false, "titleFontSize": 21, "titleFontWeight": "normal", "titleColor": "#262626", "titlePadding": 9}},
"y": {"field": "y", "type": "quantitative", "scale": {"type": "log", "domain": [0.001, 1], "nice": false}, "axis": {"values": [0.001,0.002,0.003,0.004,0.005,0.006,0.007,0.008,0.009,0.01,0.02,0.03,0.04,0.05,0.06,0.07,0.08,0.09,0.1,0.2,0.3,0.4,0.5,0.6,0.7,0.8,0.9,1], "labelExpr": "datum.value===1 ? '10⁰' : datum.value===0.1 ? '10⁻¹' : datum.value===0.01 ? '10⁻²' : datum.value===0.001 ? '10⁻³' : ''", "labelOverlap": false, "labelFlush": false, "title": "BER", "grid": true, "gridColor": {"condition": {"test": "datum.value===1||datum.value===0.1||datum.value===0.01||datum.value===0.001", "value": "#e0e0e0"}, "value": "#c4c4c4"}, "gridDash": {"condition": {"test": "datum.value===1||datum.value===0.1||datum.value===0.01||datum.value===0.001", "value": []}, "value": [2, 6]}, "domainColor": "#262626", "domainWidth": 1.5, "tickColor": "#262626", "tickSize": -4, "labelPadding": 12, "labelFontSize": 21, "labelColor": "#262626", "titleFontSize": 21, "titleFontWeight": "normal", "titleColor": "#262626", "titlePadding": 19}}
},
"layer": [
{"data": {"name": "bL"}, "mark": {"type": "line", "strokeWidth": 2.5, "interpolate": "monotone"}, "encoding": {"color": {"field": "l", "type": "nominal", "title": null, "scale": {"domain": ["100 kHz","300 kHz","1 MHz"], "range": ["#0072BD","#EDB120","#D95319"]}, "legend": {"orient": "bottom-right", "offset": 3, "padding": 0, "labelExpr": "'Laser Linewidth = ' + datum.label", "symbolType": "stroke", "symbolSize": 5600, "symbolStrokeWidth": 2.5, "labelFontSize": 21, "labelFont": "Liberation Serif", "labelColor": "#1a1a1a", "labelLimit": 400, "labelOffset": 10, "clipHeight": 22, "rowPadding": 5}}, "detail": {"field": "s"}}},
{"data": {"name": "bM"}, "mark": {"type": "point", "filled": false, "strokeWidth": 2, "opacity": 1}, "encoding": {"color": {"field": "l", "type": "nominal", "legend": null}, "shape": {"field": "l", "type": "nominal", "scale": {"domain": ["100 kHz","300 kHz","1 MHz"], "range": ["M0,-1L0.72,0L0,1L-0.72,0Z","circle","triangle-up"]}, "legend": null}, "size": {"field": "l", "type": "nominal", "scale": {"domain": ["100 kHz","300 kHz","1 MHz"], "range": [140, 100, 170]}, "legend": null}}},
{"data": {"name": "bT"}, "mark": {"type": "text", "align": "left", "baseline": "middle", "fontSize": 21, "font": "Liberation Serif", "color": "#1a1a1a"}, "encoding": {"text": {"field": "t"}}},
{"data": {"name": "top"}, "mark": {"type": "point", "shape": "triangle-up", "filled": true, "color": "#262626", "size": 64, "opacity": 1, "yOffset": -1}},
{"data": {"name": "end"}, "mark": {"type": "point", "shape": "triangle-right", "filled": true, "color": "#262626", "size": 64, "opacity": 1, "xOffset": 2}}
]
}
]
}
